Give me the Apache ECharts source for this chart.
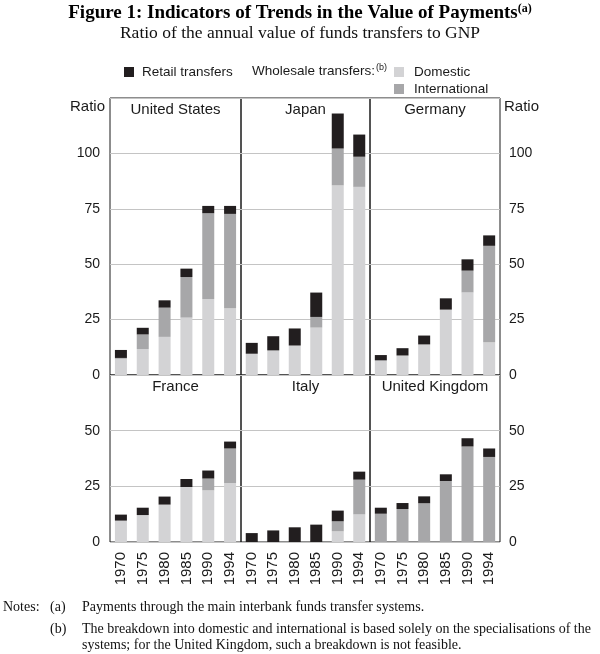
<!DOCTYPE html>
<html>
<head>
<meta charset="utf-8">
<script src="https://cdn.jsdelivr.net/npm/echarts@6/dist/echarts.min.js"></script>
<style>html,body{margin:0;padding:0;background:#fff}#c{width:600px;height:654px}</style>
</head>
<body>
<div id="c"></div>
<script>
const years = ['1970','1975','1980','1985','1990','1994'];
const countries = ['United States','Japan','Germany','France','Italy','United Kingdom'];
const topTicks = [0,25,50,75,100];
const bottomTicks = [0,25,50];

// Wholesale domestic
const domesticUS = [7.3, 11.7, 17.2, 25.9, 34.3, 30.1];
const domesticJP = [9.6, 11.1, 13.3, 21.4, 85.6, 84.9];
const domesticDE = [6.6, 8.8, 13.8, 29.5, 37.3, 14.8];
const domesticFR = [9.6, 12.1, 16.8, 24.7, 23.2, 26.5];
const domesticIT = [0, 0, 0, 0, 4.8, 12.4];
const domesticUK = [0, 0, 0, 0, 0, 0];
// Wholesale international (UK: total wholesale, no breakdown)
const internationalUS = [0.4, 6.6, 13.2, 18.3, 38.7, 42.6];
const internationalJP = [0, 0, 0, 4.8, 16.6, 13.6];
const internationalDE = [0, 0, 0, 0, 9.8, 43.5];
const internationalFR = [0, 0, 0, 0, 5.3, 15.5];
const internationalIT = [0, 0, 0, 0, 4.5, 15.6];
const internationalUK = [12.7, 14.8, 17.4, 27.4, 42.9, 38.2];
// Retail
const retailUS = [3.6, 3.0, 3.3, 3.8, 3.3, 3.6];
const retailJP = [4.9, 6.4, 7.7, 11.0, 15.8, 10.0];
const retailDE = [2.4, 3.3, 4.0, 5.1, 5.1, 4.7];
const retailFR = [2.7, 3.3, 3.6, 3.6, 3.6, 3.1];
const retailIT = [4.0, 5.2, 6.6, 7.8, 4.8, 3.6];
const retailUK = [2.7, 2.7, 3.1, 3.0, 3.7, 3.8];

const domestic = [domesticUS, domesticJP, domesticDE, domesticFR, domesticIT, domesticUK];
const international = [internationalUS, internationalJP, internationalDE, internationalFR, internationalIT, internationalUK];
const retail = [retailUS, retailJP, retailDE, retailFR, retailIT, retailUK];

const C_DOM = '#d3d3d5', C_INT = '#a7a7a9', C_RET = '#221e1f';
const SANS = 'Liberation Sans, Arial, sans-serif';
const SERIF = 'Liberation Serif, Times New Roman, serif';

const colX = [110, 241, 370];
const colW = [131, 129, 130];
const rowY = [98, 375];
const rowH = [277, 167];
const rowMax = [125, 75];

function txt(x, y, text, font, align, fill) {
  return {type: 'text', x: x, y: y, silent: true,
    style: {text: text, font: font, fill: fill || '#1a1a1a',
      textAlign: align || 'left', align: align || 'left',
      textVerticalAlign: 'middle', verticalAlign: 'middle'}};
}

const grids = [], xAxes = [], yAxes = [], series = [], graphics = [];
countries.forEach((name, i) => {
  const r = Math.floor(i / 3), c = i % 3;
  const ticks = r === 0 ? topTicks : bottomTicks;
  grids.push({left: colX[c], top: rowY[r], width: colW[c], height: rowH[r],
    show: true, borderColor: '#1a1a1a', borderWidth: 1, containLabel: false});
  xAxes.push({type: 'category', gridIndex: i, data: years,
    axisLine: {show: false}, axisTick: {show: false},
    axisLabel: {show: r === 1, rotate: 90, fontSize: 15, fontFamily: SANS, color: '#1a1a1a', margin: 10}});
  yAxes.push({type: 'value', gridIndex: i, min: 0, max: rowMax[r], interval: 25,
    position: c === 2 ? 'right' : 'left',
    axisLine: {show: false}, axisTick: {show: false},
    splitLine: {show: true, lineStyle: {color: '#c4c4c4', width: 1}},
    axisLabel: {show: c !== 1, fontSize: 14, fontFamily: SANS, color: '#1a1a1a', margin: c === 2 ? 9 : 10,
      formatter: v => ticks.indexOf(v) >= 0 ? String(v) : ''}});
  const common = {type: 'bar', xAxisIndex: i, yAxisIndex: i, stack: 's' + i, barWidth: 12};
  series.push(Object.assign({name: 'Domestic', data: domestic[i], itemStyle: {color: C_DOM}}, common));
  series.push(Object.assign({name: 'International', data: international[i], itemStyle: {color: C_INT}}, common));
  series.push(Object.assign({name: 'Retail transfers', data: retail[i], itemStyle: {color: C_RET}}, common));
  graphics.push(txt(colX[c] + colW[c] / 2, rowY[r] + 12, name, '15px ' + SANS, 'center'));
});

graphics.push(txt(70, 107, 'Ratio', '15px ' + SANS, 'left'));
graphics.push(txt(504, 107, 'Ratio', '15px ' + SANS, 'left'));
graphics.push({type: 'text', left: 252, top: 63, silent: true, style: {
  text: '{t|Wholesale transfers:}{s|(b)}',
  rich: {t: {font: '13.5px ' + SANS, fill: '#1a1a1a', verticalAlign: 'bottom'},
         s: {font: '9px ' + SANS, fill: '#1a1a1a', verticalAlign: 'top', padding: [0,0,6,1]}}}});
// Notes
const noteFont = '14px ' + SERIF;
graphics.push(txt(3, 607, 'Notes:', noteFont, 'left', '#111'));
graphics.push(txt(50, 607, '(a)', noteFont, 'left', '#111'));
graphics.push(txt(82, 607, 'Payments through the main interbank funds transfer systems.', noteFont, 'left', '#111'));
graphics.push(txt(50, 629, '(b)', noteFont, 'left', '#111'));
graphics.push(txt(82, 629, 'The breakdown into domestic and international is based solely on the specialisations of the', noteFont, 'left', '#111'));
graphics.push(txt(82, 645, 'systems; for the United Kingdom, such a breakdown is not feasible.', noteFont, 'left', '#111'));

const option = {
  animation: false,
  backgroundColor: '#fff',
  title: [{
    text: '{b|Figure 1: Indicators of Trends in the Value of Payments}{s|(a)}',
    left: 'center', top: -2,
    textStyle: {rich: {
      b: {fontFamily: SERIF, fontWeight: 'bold', fontSize: 19, color: '#000'},
      s: {fontFamily: SERIF, fontWeight: 'bold', fontSize: 12, color: '#000', verticalAlign: 'top', padding: [0,0,9,0]}}}
  }, {
    text: 'Ratio of the annual value of funds transfers to GNP',
    left: 'center', top: 19,
    textStyle: {fontFamily: SERIF, fontWeight: 'normal', fontSize: 17.5, color: '#111'}
  }],
  legend: [{
    data: ['Retail transfers'], left: 124, top: 65, padding: 0, icon: 'rect', itemWidth: 10, itemHeight: 10,
    itemGap: 6, textStyle: {fontFamily: SANS, fontSize: 13.5, color: '#1a1a1a', padding: [0,0,0,3]}, selectedMode: false
  }, {
    data: ['Domestic', 'International'], left: 394, top: 65, padding: 0, orient: 'vertical', icon: 'rect',
    itemWidth: 10, itemHeight: 10, itemGap: 3,
    textStyle: {fontFamily: SANS, fontSize: 13.5, color: '#1a1a1a', padding: [0,0,0,5]}, selectedMode: false
  }],
  grid: grids, xAxis: xAxes, yAxis: yAxes, series: series,
  graphic: graphics
};
const chart = echarts.init(document.getElementById('c'), null, {renderer: 'canvas'});
chart.setOption(option);
</script>
</body>
</html>
